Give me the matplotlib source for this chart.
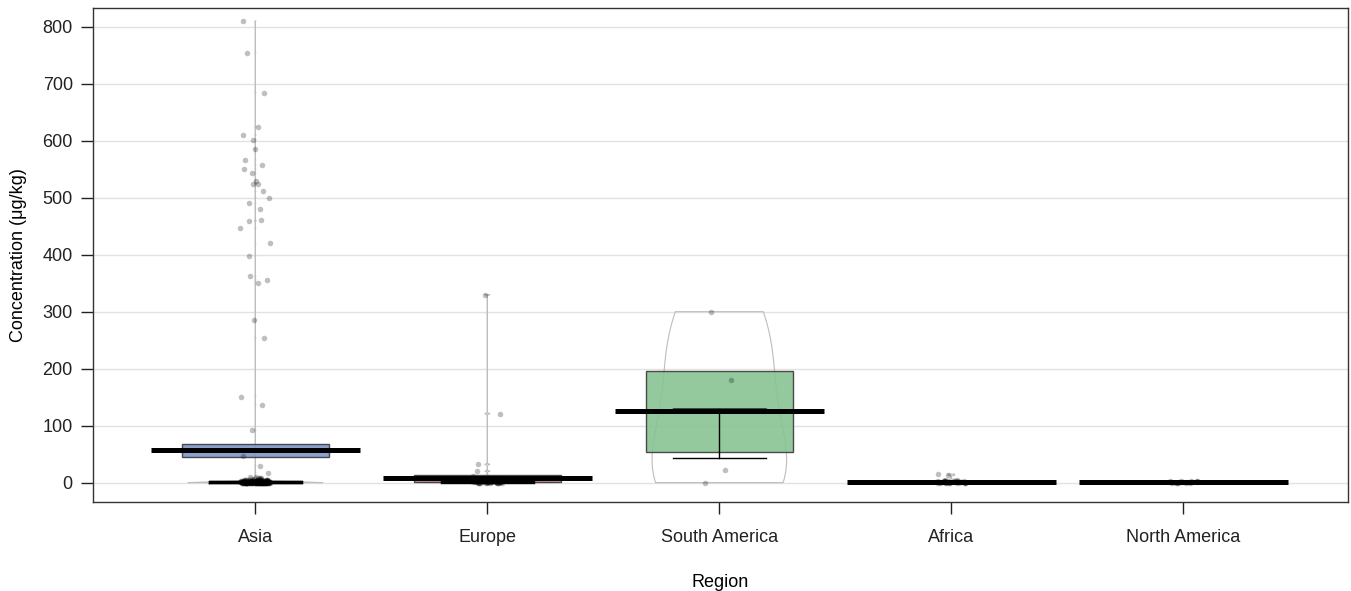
import numpy as np
import matplotlib.pyplot as plt

plt.rcParams['font.family'] = ['Liberation Sans', 'DejaVu Sans']

regions = ["Asia", "Europe", "South America", "Africa", "North America"]

asia_high = [810, 754, 684, 624, 610, 602, 585, 566, 558, 550, 543, 530, 524, 524,
             511, 500, 490, 481, 460, 459, 446, 420, 398, 362, 356, 351, 285, 254,
             151, 137, 92, 47, 30, 17]
asia_low_values = [0, 0.5, 1, 2, 3, 4, 5, 6, 8, 10]
asia_low_counts = [70, 50, 35, 25, 15, 10, 6, 4, 3, 2]

europe_high = [330, 121, 32, 20, 12]
europe_low_values = [0, 0.5, 1, 2, 3, 5, 8]
europe_low_counts = [12, 10, 8, 6, 4, 3, 2]

south_america = [0, 22, 180, 300]

africa_high = [15, 13]
africa_low_values = [0, 0.5, 1, 2, 3, 5]
africa_low_counts = [10, 8, 6, 4, 3, 2]

north_america_low_values = [0, 0.5, 1, 2, 3]
north_america_low_counts = [6, 5, 4, 3, 2]

# mean line and inference band per region
means = [57, 8, 125, 1.5, 1]
band_lo = [45, 1, 54, 0, 0]
band_hi = [67, 13, 195, 3, 2]
band_colors = ["#7F96C8", "#C08A95", "#87C491", "#E8A95C", "#A68BC7"]

# thin boxplot summary per region
box_med = [1, 2, 130, 0.5, 0.5]
box_q1 = [0, 0.5, 130, 0, 0]
box_q3 = [3, 4, 130, 2, 1]
box_lo = [0, 0, 43, 0, 0]
box_hi = [3, 6, 130, 2, 1]

groups = [
    asia_high + list(np.repeat(asia_low_values, asia_low_counts)),
    europe_high + list(np.repeat(europe_low_values, europe_low_counts)),
    south_america,
    africa_high + list(np.repeat(africa_low_values, africa_low_counts)),
    list(np.repeat(north_america_low_values, north_america_low_counts)),
]
groups = [np.asarray(g, dtype=float) for g in groups]


def bw_nrd0(x):
    sd = np.std(x, ddof=1)
    iqr = np.subtract(*np.percentile(x, [75, 25]))
    lo = min(sd, iqr / 1.34) if iqr > 0 else sd
    return 0.9 * lo * len(x) ** -0.2


fig = plt.figure(figsize=(13.51, 5.91), dpi=100)
ax = fig.add_axes([0.0688, 0.1506, 0.929, 0.836])

pos = np.arange(1, len(regions) + 1)
rng = np.random.default_rng(3)

for i, vals in enumerate(groups):
    p = pos[i]
    # bean outline
    bw = bw_nrd0(vals)
    y = np.linspace(vals.min(), vals.max(), 600)
    dens = np.exp(-0.5 * ((y[:, None] - vals[None, :]) / bw) ** 2).sum(axis=1)
    w = dens / dens.max() * 0.29
    ax.fill_betweenx(y, p - w, p + w, facecolor="none", edgecolor="#bdbdbd",
                     lw=0.8, zorder=1)
    # inference band
    ax.bar(p, band_hi[i] - band_lo[i], bottom=band_lo[i], width=0.636,
           color=band_colors[i], edgecolor="#3a3a3a", lw=1, alpha=0.9, zorder=2)
    # raw points
    jit = rng.uniform(-0.065, 0.065, len(vals))
    ax.scatter(p + jit, vals, s=16, color="black", alpha=0.25, lw=0, zorder=3)

stats = [dict(med=box_med[i], q1=box_q1[i], q3=box_q3[i],
              whislo=box_lo[i], whishi=box_hi[i]) for i in range(len(regions))]
lp = dict(color="black", lw=1)
ax.bxp(stats, positions=pos, widths=0.4, capwidths=0.4, showfliers=False,
       boxprops=lp, whiskerprops=lp, capprops=lp, medianprops=lp,
       manage_ticks=False, zorder=4)

ax.hlines(means, pos - 0.45, pos + 0.45, color="black", lw=3.6, zorder=5)

ax.set_xlim(0.3, 5.71)
ax.set_ylim(-34, 833)
ax.set_yticks(range(0, 801, 100))
ax.set_xticks(pos, regions)
ax.yaxis.grid(True, color="#e2e2e2", lw=1)
ax.set_axisbelow(True)
for s in ax.spines.values():
    s.set_color("#333333")
    s.set_linewidth(1)
ax.tick_params(direction="out", length=8.5, width=1, labelsize=13, colors="#222222")
ax.tick_params(axis="y", pad=6)
ax.tick_params(axis="x", pad=11)

ax.set_xlabel("Region", fontsize=13, labelpad=20)
ax.set_ylabel("Concentration (μg/kg)", fontsize=13, labelpad=11)

fig.savefig("out.png", dpi=100)
